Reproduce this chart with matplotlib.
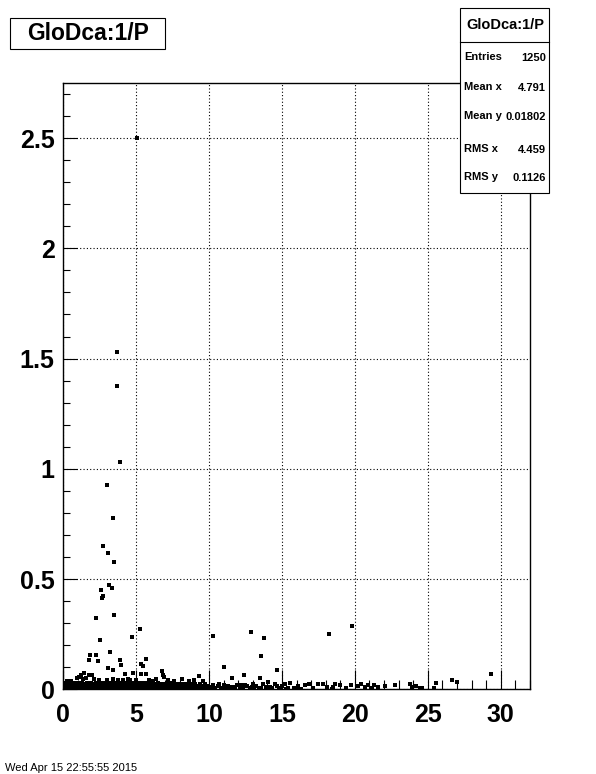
import matplotlib
matplotlib.use("Agg")
import matplotlib.pyplot as plt
from matplotlib.patches import Rectangle

plt.rcParams['font.family'] = ['Liberation Sans', 'DejaVu Sans']
plt.rcParams['font.weight'] = 'bold'

# isolated points above the dense band (x = GloDca, y = 1/P)
out_x = [5.05, 3.70, 3.70, 3.90, 3.01, 3.42, 2.74, 3.08, 3.49, 3.15, 3.36, 2.60,
         2.74, 2.67, 2.26, 3.49, 5.27, 4.73, 2.53, 1.83, 2.26, 1.78, 2.40, 3.22,
         3.90, 3.95, 3.08, 3.42, 5.68, 5.34, 5.48, 4.82, 4.27, 5.34, 5.71, 1.42,
         1.23, 1.78, 1.99, 0.96, 6.78, 6.85, 6.95, 9.32, 10.30, 11.03, 12.40, 12.88,
         13.77, 13.56, 13.49, 14.66, 11.58, 18.22, 19.79, 29.32, 26.65, 27.01, 6.40,
         8.13, 4.45, 3.42, 1.60, 1.10, 2.10, 2.50, 3.00, 3.80, 4.10, 5.00, 5.90,
         7.20, 7.60, 8.60, 9.00, 9.60, 0.55, 0.30, 1.35, 4.60, 6.20]
out_y = [2.500, 1.531, 1.374, 1.029, 0.925, 0.775, 0.648, 0.617, 0.576, 0.471, 0.458, 0.449,
         0.422, 0.413, 0.322, 0.335, 0.272, 0.236, 0.225, 0.154, 0.154, 0.131, 0.127, 0.168,
         0.131, 0.109, 0.095, 0.086, 0.136, 0.113, 0.104, 0.074, 0.070, 0.068, 0.068, 0.072,
         0.063, 0.063, 0.063, 0.050, 0.082, 0.063, 0.054, 0.059, 0.240, 0.100, 0.063, 0.258,
         0.231, 0.150, 0.050, 0.086, 0.050, 0.249, 0.286, 0.068, 0.041, 0.032, 0.045,
         0.045, 0.045, 0.045, 0.050, 0.055, 0.045, 0.040, 0.040, 0.042, 0.040, 0.040, 0.040,
         0.040, 0.036, 0.038, 0.040, 0.038, 0.038, 0.036, 0.048, 0.042, 0.038]

# dense band near zero, x < ~10, three layers
band_low_x = [0.02, 0.18, 0.33, 0.49, 0.66, 0.81, 0.97, 1.12, 1.28, 1.43, 1.57, 1.74,
              1.88, 2.03, 2.19, 2.34, 2.48, 2.63, 2.79, 2.94, 3.08, 3.24, 3.39, 3.55,
              3.69, 3.84, 3.99, 4.15, 4.29, 4.44, 4.60, 4.75, 4.89, 5.04, 5.21, 5.35,
              5.50, 5.66, 5.80, 5.95, 6.11, 6.25, 6.40, 6.56, 6.71, 6.85, 7.00, 7.16,
              7.31, 7.45, 7.61, 7.76, 7.90, 8.06, 8.21, 8.36, 8.51, 8.66, 8.80, 8.96,
              9.11, 9.26, 9.41, 9.57, 9.71, 9.86, 10.02, 10.15]
band_low_y = [0.006] * 68
band_mid_x = [0.05, 0.21, 0.37, 0.52, 0.69, 0.84, 1.00, 1.16, 1.31, 1.46, 1.62, 1.77,
              1.93, 2.08, 2.24, 2.39, 2.55, 2.70, 2.85, 3.01, 3.16, 3.32, 3.47, 3.62,
              3.78, 3.93, 4.09, 4.24, 4.40, 4.55, 4.70, 4.86, 5.01, 5.17, 5.32, 5.48,
              5.63, 5.78, 5.94, 6.09, 6.25, 6.40, 6.56, 6.71, 6.86, 7.02, 7.17, 7.33,
              7.48, 7.63, 7.79, 7.94, 8.10, 8.25, 8.41, 8.56, 8.71, 8.87, 9.02, 9.18,
              9.33, 9.48, 9.64, 9.79, 9.95]
band_mid_y = [0.016] * 65
band_top_x = [0.03, 0.19, 0.35, 0.51, 0.67, 0.83, 0.99, 1.15, 1.30, 1.47, 1.63, 1.79,
              1.95, 2.11, 2.27, 2.43, 2.59, 2.74, 2.90, 3.06, 3.22, 3.38, 3.54, 3.70,
              3.86, 4.02, 4.18, 4.34, 4.50, 4.66, 4.82, 4.98, 5.14, 5.30, 5.46, 5.62,
              5.78, 5.94, 6.10, 6.30, 6.50, 6.66, 6.90, 7.10, 7.35, 7.55, 7.80, 8.00,
              8.30, 8.55, 8.75, 9.05, 9.40, 9.70]
band_top_y = [0.026, 0.028, 0.026, 0.027, 0.026, 0.028, 0.030, 0.027, 0.029, 0.026, 0.028, 0.027,
              0.030, 0.026, 0.028, 0.029, 0.026, 0.030, 0.027, 0.028, 0.026, 0.030, 0.027, 0.029,
              0.026, 0.028, 0.027, 0.030, 0.026, 0.028, 0.027, 0.029, 0.026, 0.028, 0.030, 0.026,
              0.027, 0.029, 0.026, 0.025, 0.027, 0.024, 0.026, 0.025, 0.027, 0.024, 0.026, 0.025,
              0.024, 0.026, 0.023, 0.025, 0.024, 0.022]

# sparse points near zero beyond x ~ 10
tail_x = [10.10, 10.40, 10.60, 10.80, 11.00, 11.20, 11.40, 11.70, 11.90, 12.10, 12.30, 12.60,
          12.80, 13.00, 13.24, 13.40, 13.70, 13.90, 14.04, 14.30, 14.50, 14.80, 15.00, 15.18,
          15.40, 15.57, 15.80, 16.10, 16.30, 16.55, 16.85, 17.10, 17.47, 17.81, 18.10, 18.45,
          18.66, 19.00, 19.40, 19.71, 20.21, 20.44, 20.70, 20.89, 21.10, 21.30, 21.60, 22.03,
          22.72, 23.77, 23.90, 24.20, 24.45, 24.60, 25.41, 25.58, 10.25, 10.90, 11.50, 12.20,
          13.10, 14.20, 14.90, 15.25, 18.50, 21.20, 10.70, 11.30, 11.80, 12.45, 12.95, 13.55,
          14.65, 16.00]
tail_y = [0.010, 0.004, 0.015, 0.008, 0.020, 0.006, 0.012, 0.004, 0.018, 0.009, 0.003, 0.014,
          0.007, 0.023, 0.014, 0.005, 0.023, 0.010, 0.032, 0.006, 0.022, 0.004, 0.016, 0.023,
          0.008, 0.030, 0.005, 0.014, 0.003, 0.020, 0.023, 0.006, 0.024, 0.024, 0.010, 0.001,
          0.024, 0.019, 0.008, 0.020, 0.015, 0.024, 0.012, 0.021, 0.000, 0.018, 0.010, 0.014,
          0.020, 0.023, 0.012, 0.016, 0.007, 0.007, 0.004, 0.027, 0.020, 0.003, 0.012, 0.018,
          0.006, 0.012, 0.008, 0.002, 0.012, 0.006, 0.025, 0.016, 0.009, 0.021, 0.011, 0.004,
          0.013, 0.008]

title = "GloDca:1/P"
stat_names = ["Entries", "Mean x", "Mean y", "RMS x", "RMS y"]
stat_values = ["1250", "4.791", "0.01802", "4.459", "0.1126"]

W, H = 596, 774
fig = plt.figure(figsize=(W / 100, H / 100), dpi=100)
ax = fig.add_axes([63 / W, 1 - 689.3 / H, 467 / W, 606.3 / H])

ms = 2.3
for xs, ys in [(band_low_x, band_low_y), (band_mid_x, band_mid_y),
               (band_top_x, band_top_y), (tail_x, tail_y), (out_x, out_y)]:
    ax.plot(xs, ys, ls='none', marker='s', ms=ms, mew=0, color='black', clip_on=True)

ax.set_xlim(0, 32)
ax.set_ylim(0, 2.75)
ax.set_xticks([0, 5, 10, 15, 20, 25, 30])
ax.set_xticks(range(0, 33), minor=True)
ax.set_yticks([0, 0.5, 1, 1.5, 2, 2.5])
ax.set_yticklabels(["0", "0.5", "1", "1.5", "2", "2.5"])
ax.set_yticks([i / 10 for i in range(0, 28)], minor=True)
ax.tick_params(axis='x', which='major', direction='in', length=13.5, width=0.8,
               labelsize=18, pad=10)
ax.tick_params(axis='x', which='minor', direction='in', length=6.8, width=0.8)
ax.tick_params(axis='y', which='major', direction='in', length=10, width=0.8,
               labelsize=18, pad=6)
ax.tick_params(axis='y', which='minor', direction='in', length=5, width=0.8)
for lab in ax.get_xticklabels() + ax.get_yticklabels():
    lab.set_fontweight('bold')
ax.grid(True, which='major', color='black', ls=(0, (1, 2)), lw=0.8)
for s in ax.spines.values():
    s.set_linewidth(1)
    s.set_color('black')

# title box
fig.patches.append(Rectangle((10 / W, 1 - 49 / H), 155 / W, 31 / H, transform=fig.transFigure,
                             facecolor='white', edgecolor='black', lw=0.8, zorder=5))
fig.text(88 / W, 1 - 33.5 / H, title, ha='center', va='center', fontsize=16.5,
         fontweight='bold', zorder=6)

# stats box
fig.patches.append(Rectangle((460 / W, 1 - 193 / H), 89 / W, 185 / H, transform=fig.transFigure,
                             facecolor='white', edgecolor='black', lw=0.8, zorder=5))
fig.add_artist(plt.Line2D([460 / W, 549 / W], [1 - 42 / H, 1 - 42 / H], color='black', lw=0.8,
                          transform=fig.transFigure, zorder=6))
fig.text(505 / W, 1 - 25 / H, title, ha='center', va='center', fontsize=10.5,
         fontweight='bold', zorder=6)
rows_y = [57, 87, 116, 149, 177]
for name, val, ry in zip(stat_names, stat_values, rows_y):
    fig.text(464 / W, 1 - ry / H, name, ha='left', va='center', fontsize=8,
             fontweight='bold', zorder=6)
    fig.text(546 / W, 1 - (ry + 1) / H, val, ha='right', va='center', fontsize=8,
             fontweight='bold', zorder=6)

# date stamp at the bottom
fig.text(5 / W, 1 - 773 / H, "Wed Apr 15 22:55:55 2015", ha='left', va='bottom', fontsize=8,
         fontweight='normal')

fig.savefig("out.png", dpi=100)
